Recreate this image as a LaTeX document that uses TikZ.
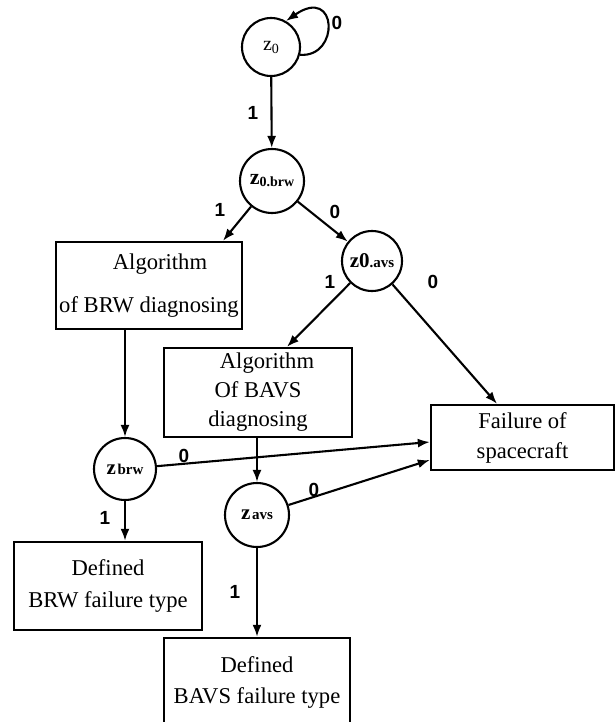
\documentclass[tikz,border=0pt]{standalone}
\usepackage{fontspec}
\setmainfont{Liberation Serif}
\newfontfamily\lblfont{Liberation Sans}
\usetikzlibrary{arrows.meta}
\begin{document}
\begin{tikzpicture}[x=1pt,y=-1pt,
  box/.style={draw, line width=2.4pt, align=center, inner sep=0pt},
  state/.style={draw, circle, line width=2.1pt, inner sep=0pt},
  arr/.style={-{Latex[length=12pt,width=9pt]}, line width=2.1pt},
  lbl/.style={font=\lblfont\bfseries\fontsize{19}{19}\selectfont, inner sep=0pt},
]
\useasboundingbox (0,0) rectangle (615,722);
\clip (0,0) rectangle (615,722);

% states
\node[state, minimum size=58pt] (z0) at (271,47)
  {{\fontsize{20}{20}\selectfont z}\raisebox{-3pt}{\fontsize{14}{14}\selectfont 0}};
\node[state, minimum size=64pt] (z0brw) at (272,181)
  {{\fontsize{22}{22}\selectfont\bfseries z}\raisebox{-2pt}{\fontsize{14}{14}\selectfont\bfseries 0.brw}};
\node[state, minimum size=60pt] (z0avs) at (372,261)
  {{\fontsize{21}{21}\selectfont\bfseries z0}{\fontsize{15}{15}\selectfont\bfseries .avs}};
\node[state, minimum size=62pt] (zbrw) at (125,469)
  {{\fontsize{21}{21}\selectfont\bfseries z}\,{\fontsize{15}{15}\selectfont\bfseries brw}};
\node[state, minimum size=64pt] (zavs) at (257,515)
  {{\fontsize{21}{21}\selectfont\bfseries z}\,{\fontsize{15}{15}\selectfont\bfseries avs}};

% boxes
\node[box, minimum width=186pt, minimum height=87pt,
      font=\fontsize{22.6}{43}\selectfont] (algbrw) at (149,285.5)
  {\hspace*{22pt}Algorithm\\of BRW diagnosing};
\node[box, minimum width=188pt, minimum height=89pt,
      font=\fontsize{22.6}{29}\selectfont] (algbavs) at (258,392.5)
  {\hspace*{18pt}Algorithm\\Of BAVS\\diagnosing};
\node[box, minimum width=183pt, minimum height=65pt,
      font=\fontsize{22.6}{30}\selectfont] (fail) at (522.5,437.5)
  {Failure of\\spacecraft};
\node[box, minimum width=188pt, minimum height=88pt,
      font=\fontsize{22.6}{32}\selectfont] (defbrw) at (108,586)
  {Defined\\BRW failure type};
\node[box, minimum width=186pt, minimum height=89pt,
      font=\fontsize{22.6}{31}\selectfont] (defbavs) at (257,682.5)
  {Defined\\BAVS failure type};

% connectors
\draw[arr] (z0.-15) .. controls (340,58) and (338,-15) .. (z0.60);
\draw[arr] (z0) -- (z0brw);
\draw[arr] (z0brw) -- ([xshift=74pt]algbrw.north);
\draw[arr] (z0brw) -- (z0avs);
\draw[arr] (z0avs) -- ([xshift=29pt]algbavs.north);
\draw[arr] (z0avs) -- ([xshift=-25.5pt]fail.north);
\draw[arr] (algbrw.south -| zbrw) -- (zbrw);
\draw[arr] (algbavs.south -| zavs) -- (zavs);
\draw[arr] (zbrw) -- ([yshift=-4.5pt]fail.west);
\draw[arr] (zavs) -- ([yshift=-22.5pt]fail.west);
\draw[arr] (zbrw) -- (zbrw |- defbrw.north);
\draw[arr] (zavs) -- (defbavs);

% edge labels
\node[lbl] (l1) at (337,23) {0};
\node[lbl] (l2) at (253,113) {1};
\node[lbl] (l3) at (220,210) {1};
\node[lbl] (l4) at (335,212) {0};
\node[lbl] (l5) at (330,282) {1};
\node[lbl] (l6) at (433,282) {0};
\node[lbl] (l7) at (184,456) {0};
\node[lbl] (l8) at (314,490) {0};
\node[lbl] (l9) at (105,518) {1};
\node[lbl] (l10) at (235,592) {1};
\end{tikzpicture}
\end{document}
